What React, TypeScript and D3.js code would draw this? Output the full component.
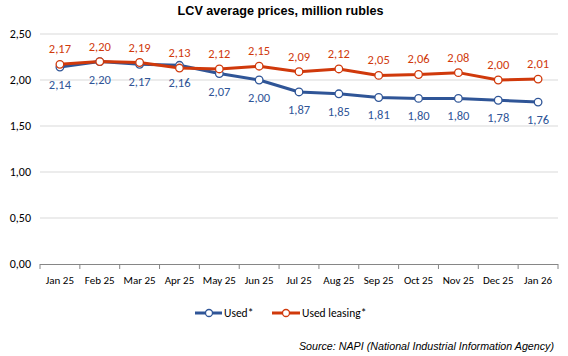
import React from "react";
import * as d3 from "d3";

const categories = ["Jan 25","Feb 25","Mar 25","Apr 25","May 25","Jun 25","Jul 25","Aug 25","Sep 25","Oct 25","Nov 25","Dec 25","Jan 26"];
const used = [2.14,2.20,2.17,2.16,2.07,2.00,1.87,1.85,1.81,1.80,1.80,1.78,1.76];
const usedLeasing = [2.17,2.20,2.19,2.13,2.12,2.15,2.09,2.12,2.05,2.06,2.08,2.00,2.01];
const yTicks = [0,0.5,1,1.5,2,2.5];

const W = 568, H = 356;
const BLUE = "#2F5597";
const RED = "#D0390B";
const fmt = (v: number) => v.toFixed(2).replace(".", ",");

export default function App() {
  const x = d3.scaleBand().domain(categories).range([40, 558]);
  const y = d3.scaleLinear().domain([0, 2.5]).range([264, 34]);
  const cx = (c: string) => (x(c) as number) + x.bandwidth() / 2;
  const line = d3.line<number>().x((_, i) => cx(categories[i])).y(v => y(v));
  const font = "Carlito, Calibri, Lato, sans-serif";
  return (
    <svg width={W} height={H} style={{ position: "absolute", left: 0, top: 0, background: "#fff" }}>
      <text x={280.5} y={15} textAnchor="middle" fontFamily="'Liberation Sans', Arial, sans-serif" fontWeight="bold" fontSize={12.6} fill="#000">LCV average prices, million rubles</text>
      {yTicks.map(t => (
        <g key={t}>
          {t > 0 && <line x1={40} x2={558} y1={y(t)} y2={y(t)} stroke="#d9d9d9" strokeWidth={1} />}
          <text x={31} y={y(t) + 4} textAnchor="end" fontFamily={font} fontSize={12} fill="#000">{fmt(t)}</text>
        </g>
      ))}
      <line x1={40} x2={558} y1={264.5} y2={264.5} stroke="#868686" strokeWidth={1} />
      {categories.map((c, i) => (
        <line key={"t" + i} x1={(x(c) as number)} x2={(x(c) as number)} y1={264} y2={269} stroke="#868686" />
      ))}
      <line x1={558} x2={558} y1={264} y2={269} stroke="#868686" />
      {categories.map(c => (
        <text key={c} x={cx(c)} y={284} textAnchor="middle" fontFamily={font} fontSize={11} fill="#000">{c}</text>
      ))}
      <path d={line(used) || ""} fill="none" stroke={BLUE} strokeWidth={3} strokeLinejoin="round" />
      <path d={line(usedLeasing) || ""} fill="none" stroke={RED} strokeWidth={3} strokeLinejoin="round" />
      {used.map((v, i) => (
        <g key={"u" + i}>
          <circle cx={cx(categories[i])} cy={y(v)} r={3.8} fill="#fff" stroke={BLUE} strokeWidth={1.3} />
          <text x={cx(categories[i])} y={y(v) + 22} textAnchor="middle" fontFamily={font} fontSize={12.5} fill={BLUE}>{fmt(v)}</text>
        </g>
      ))}
      {usedLeasing.map((v, i) => (
        <g key={"l" + i}>
          <circle cx={cx(categories[i])} cy={y(v)} r={3.8} fill="#fff" stroke={RED} strokeWidth={1.3} />
          <text x={cx(categories[i])} y={y(v) - 11} textAnchor="middle" fontFamily={font} fontSize={12.5} fill={RED}>{fmt(v)}</text>
        </g>
      ))}
      <g>
        <line x1={195} x2={222} y1={313} y2={313} stroke={BLUE} strokeWidth={3} />
        <circle cx={209} cy={313} r={3.5} fill="#fff" stroke={BLUE} strokeWidth={1.3} />
        <text x={224} y={317} fontFamily={font} fontSize={11.5} fill="#000">Used*</text>
        <line x1={272} x2={300} y1={313} y2={313} stroke={RED} strokeWidth={3} />
        <circle cx={286} cy={313} r={3.5} fill="#fff" stroke={RED} strokeWidth={1.3} />
        <text x={302} y={317} fontFamily={font} fontSize={11.5} fill="#000">Used leasing*</text>
      </g>
      <text x={554} y={350} textAnchor="end" fontFamily="'Liberation Sans', Arial, sans-serif" fontStyle="italic" fontSize={10.7} fill="#000">Source: NAPI (National Industrial Information Agency)</text>
    </svg>
  );
}
